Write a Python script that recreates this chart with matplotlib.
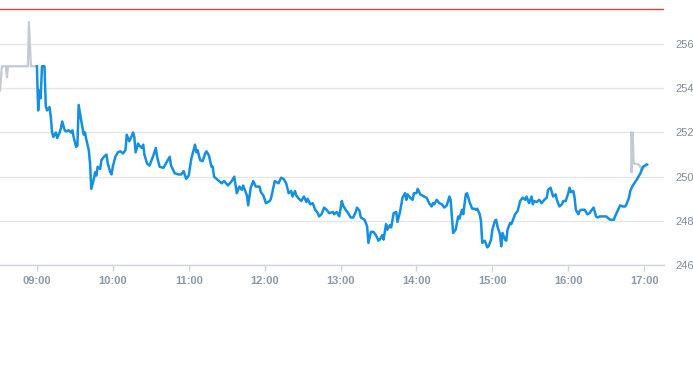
import matplotlib
matplotlib.use("Agg")
import matplotlib.pyplot as plt
import matplotlib.dates as mdates
import pandas as pd

# regular session (blue)
session_times = [
    "09:00", "09:01", "09:02", "09:03", "09:04", "09:06", "09:07", "09:08", "09:10", "09:11",
    "09:12", "09:13", "09:15", "09:16", "09:18", "09:19", "09:20", "09:22", "09:23", "09:25",
    "09:27", "09:28", "09:29", "09:31", "09:32", "09:33", "09:35", "09:37", "09:38", "09:39",
    "09:41", "09:42", "09:43", "09:45", "09:46", "09:47", "09:48", "09:50", "09:51", "09:53",
    "09:55", "09:56", "09:58", "09:59", "10:00", "10:02", "10:04", "10:06", "10:08", "10:10",
    "10:11", "10:13", "10:15", "10:16", "10:17", "10:18", "10:20", "10:21", "10:23", "10:24",
    "10:25", "10:27", "10:29", "10:32", "10:34", "10:35", "10:37", "10:40", "10:42", "10:45",
    "10:46", "10:49", "10:52", "10:54", "10:56", "10:58", "11:00", "11:02", "11:05", "11:06",
    "11:07", "11:09", "11:11", "11:13", "11:14", "11:16", "11:18", "11:19", "11:20", "11:23",
    "11:26", "11:28", "11:31", "11:34", "11:36", "11:38", "11:40", "11:42", "11:43", "11:46",
    "11:47", "11:49", "11:51", "11:53", "11:56", "11:57", "11:59", "12:01", "12:04", "12:05",
    "12:08", "12:11", "12:13", "12:15", "12:17", "12:19", "12:21", "12:22", "12:24", "12:25",
    "12:27", "12:29", "12:31", "12:33", "12:34", "12:36", "12:38", "12:40", "12:42", "12:43",
    "12:45", "12:47", "12:49", "12:51", "12:54", "12:55", "12:57", "12:59", "13:01", "13:02",
    "13:04", "13:06", "13:08", "13:10", "13:12", "13:13", "13:15", "13:16", "13:19", "13:21",
    "13:22", "13:24", "13:26", "13:28", "13:30", "13:31", "13:33", "13:34", "13:36", "13:37",
    "13:39", "13:40", "13:42", "13:44", "13:45", "13:47", "13:49", "13:51", "13:52", "13:53",
    "13:55", "13:57", "13:58", "14:00", "14:01", "14:03", "14:06", "14:08", "14:10", "14:12",
    "14:13", "14:14", "14:16", "14:18", "14:20", "14:22", "14:24", "14:26", "14:27", "14:29",
    "14:31", "14:33", "14:34", "14:36", "14:37", "14:39", "14:40", "14:42", "14:44", "14:46",
    "14:47", "14:48", "14:50", "14:51", "14:52", "14:54", "14:56", "14:57", "14:59", "15:00",
    "15:02", "15:03", "15:04", "15:06", "15:07", "15:08", "15:10", "15:11", "15:12", "15:14",
    "15:15", "15:16", "15:18", "15:20", "15:22", "15:24", "15:26", "15:27", "15:29", "15:31",
    "15:32", "15:33", "15:35", "15:37", "15:39", "15:41", "15:43", "15:44", "15:46", "15:47",
    "15:48", "15:50", "15:51", "15:53", "15:55", "15:56", "15:58", "16:00", "16:01", "16:02",
    "16:04", "16:05", "16:06", "16:08", "16:09", "16:10", "16:13", "16:15", "16:17", "16:18",
    "16:20", "16:21", "16:22", "16:23", "16:25", "16:27", "16:30", "16:33", "16:35", "16:36",
    "16:37", "16:39", "16:41", "16:43", "16:45", "16:46", "16:48", "16:49", "16:51", "16:54",
    "16:57", "16:59", "17:02",
]
session_prices = [
    255.0, 253.0, 253.9, 253.55, 255.0, 255.0, 253.2, 253.0, 253.15, 252.7,
    252.0, 251.8, 252.0, 251.75, 252.0, 252.2, 252.5, 252.1, 252.05, 252.1,
    252.0, 252.1, 251.8, 251.35, 251.4, 253.25, 252.55, 251.9, 252.0, 251.7,
    251.2, 250.6, 249.45, 249.9, 250.2, 250.05, 250.45, 250.35, 250.75, 250.9,
    251.0, 250.6, 250.2, 250.1, 250.45, 250.9, 251.1, 251.15, 251.05, 251.2,
    251.9, 251.6, 251.85, 252.0, 251.8, 251.1, 251.5, 251.4, 251.3, 251.45,
    251.0, 250.6, 250.5, 250.95, 251.3, 250.9, 250.45, 250.4, 250.6, 250.9,
    250.5, 250.15, 250.1, 250.1, 250.25, 249.9, 250.05, 250.8, 251.45, 251.1,
    251.2, 250.75, 250.7, 251.05, 251.15, 250.95, 250.45, 250.45, 250.0, 249.85,
    249.7, 249.8, 249.6, 249.8, 250.0, 249.25, 249.55, 249.4, 249.6, 249.15,
    248.7, 249.5, 249.8, 249.55, 249.55, 249.3, 249.15, 248.8, 248.9, 249.0,
    249.8, 249.7, 249.95, 249.9, 249.7, 249.25, 249.35, 249.1, 249.35, 249.15,
    249.0, 248.9, 249.1, 248.85, 249.0, 248.75, 248.8, 248.5, 248.35, 248.2,
    248.3, 248.6, 248.5, 248.35, 248.4, 248.3, 248.4, 248.2, 248.9, 248.7,
    248.5, 248.35, 248.15, 248.15, 248.4, 248.6, 248.45, 248.15, 248.05, 247.75,
    247.0, 247.5, 247.5, 247.35, 247.1, 247.15, 247.35, 247.15, 247.85, 247.6,
    247.8, 247.7, 248.35, 248.4, 247.95, 248.4, 249.05, 249.25, 248.95, 249.2,
    249.05, 248.95, 249.25, 249.25, 249.45, 249.2, 249.1, 249.05, 248.8, 248.65,
    248.8, 248.75, 248.95, 248.8, 248.75, 248.6, 248.7, 249.1, 248.95, 247.45,
    247.6, 248.2, 248.1, 248.5, 248.3, 249.2, 249.25, 248.85, 248.55, 248.55,
    248.5, 248.55, 248.3, 248.0, 247.0, 247.1, 246.8, 246.85, 247.15, 247.6,
    248.0, 248.05, 247.75, 247.4, 246.85, 247.45, 247.15, 247.1, 247.6, 247.9,
    247.85, 248.0, 248.3, 248.45, 248.9, 249.05, 248.95, 249.1, 248.8, 249.1,
    248.75, 248.9, 248.85, 248.95, 248.8, 248.95, 249.05, 249.4, 249.5, 249.3,
    249.1, 249.2, 248.95, 248.65, 248.75, 248.9, 248.9, 249.25, 249.5, 249.3,
    249.35, 249.05, 248.5, 248.3, 248.45, 248.5, 248.5, 248.3, 248.35, 248.45,
    248.6, 248.4, 248.2, 248.15, 248.2, 248.2, 248.2, 248.05, 248.05, 248.05,
    248.2, 248.45, 248.7, 248.65, 248.65, 248.75, 249.05, 249.35, 249.6, 249.85,
    250.15, 250.45, 250.55,
]

# pre-market and after-hours (grey)
pre_times = ["08:30:50", "08:32:20", "08:35:30", "08:36:20", "08:37:05", "08:52:55",
             "08:53:40", "08:55:15", "09:00:00"]
pre_prices = [253.9, 255.0, 255.0, 254.5, 255.0, 255.0, 257.0, 255.0, 255.0]

post_times = ["16:49:40", "16:50:05", "16:50:55", "16:51:40", "16:55:45", "16:58:25",
              "17:00:15", "17:02:50"]
post_prices = [252.0, 250.2, 252.0, 250.6, 250.55, 250.3, 250.45, 250.55]

limit_price = 257.6
y_ticks = [246, 248, 250, 252, 254, 256]


def to_dt(times):
    return pd.to_datetime(["2024-01-02 " + t for t in times])


fig = plt.figure(figsize=(6.93, 3.65), dpi=100)
ax = fig.add_axes([0.0, 0.274, 664 / 693, 0.726])

ax.axhline(limit_price, color="#d9463b", lw=1.0, zorder=3)
ax.plot(to_dt(pre_times), pre_prices, color="#c2cad3", lw=1.6, zorder=4)
ax.plot(to_dt(post_times), post_prices, color="#c2cad3", lw=1.6, zorder=4)
ax.plot(to_dt(session_times), session_prices, color="#1490e0", lw=1.8, zorder=5,
        solid_joinstyle="round")

ax.set_xlim(pd.Timestamp("2024-01-02 08:30:50"), pd.Timestamp("2024-01-02 17:15:40"))
ax.set_ylim(246, 258)
ax.set_yticks(y_ticks)
ax.yaxis.tick_right()
ax.xaxis.set_major_locator(mdates.HourLocator())
ax.xaxis.set_major_formatter(mdates.DateFormatter("%H:%M"))

ax.grid(axis="y", color="#e6e6e6", lw=1.0)
ax.set_axisbelow(True)
for side in ["top", "left", "right"]:
    ax.spines[side].set_visible(False)
ax.spines["bottom"].set_color("#ccd6e0")
ax.spines["bottom"].set_linewidth(1.0)

ax.tick_params(axis="y", length=0, pad=8, labelsize=8, labelcolor="#7f8c99")
ax.tick_params(axis="x", length=4, width=1, color="#ccd6e0", pad=4,
               labelsize=8, labelcolor="#8a98a7")
for lbl in ax.get_xticklabels() + ax.get_yticklabels():
    lbl.set_fontfamily("Liberation Sans")
for lbl in ax.get_xticklabels():
    lbl.set_fontweight("bold")

fig.savefig("out.png", dpi=100)
